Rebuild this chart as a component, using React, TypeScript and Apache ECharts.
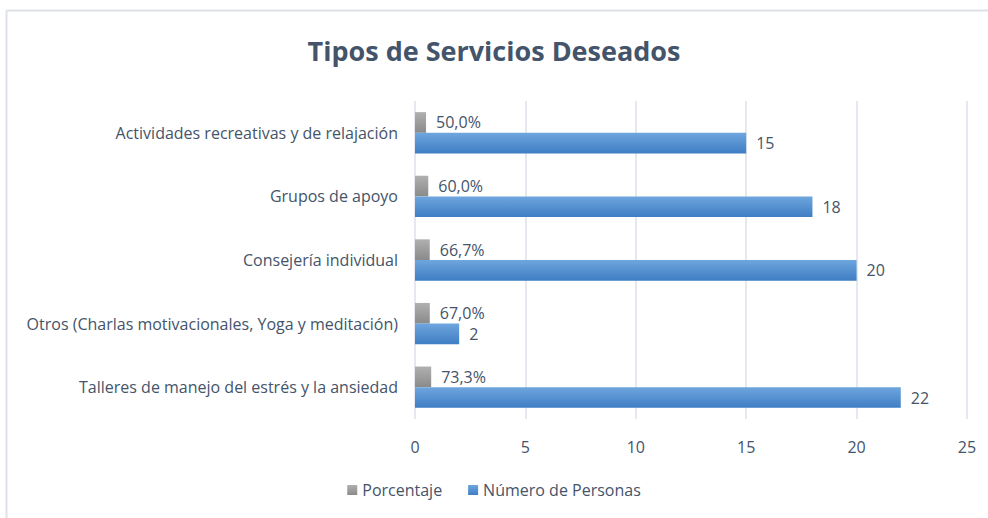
import React, { useEffect, useRef } from "react";
import * as echarts from "echarts";

const categories = [
  "Talleres de manejo del estrés y la ansiedad",
  "Otros (Charlas motivacionales, Yoga y meditación)",
  "Consejería individual",
  "Grupos de apoyo",
  "Actividades recreativas y de relajación",
];
const porcentaje = [0.733, 0.67, 0.667, 0.6, 0.5];
const personas = [22, 2, 20, 18, 15];
const xTicks = { min: 0, max: 25, interval: 5 };

const FONT = "Open Sans";

export default function App() {
  const ref = useRef<HTMLDivElement>(null);
  useEffect(() => {
    if (!ref.current) return;
    const chart = echarts.init(ref.current, undefined, { renderer: "svg" });
    chart.setOption({
      animation: false,
      backgroundColor: "#ffffff",
      textStyle: { fontFamily: FONT },
      title: {
        text: "Tipos de Servicios Deseados",
        left: "center",
        top: 32,
        textStyle: { fontFamily: FONT, fontSize: 27, fontWeight: "bold", color: "#44546a" },
      },
      graphic: [
        { type: "line", shape: { x1: 6.5, y1: 10.5, x2: 988, y2: 10.5 }, style: { stroke: "#dde2ea", lineWidth: 2 } },
        { type: "line", shape: { x1: 6.5, y1: 10.5, x2: 6.5, y2: 518 }, style: { stroke: "#dde2ea", lineWidth: 2 } },
      ],
      legend: {
        bottom: 15,
        left: "center",
        itemWidth: 10,
        itemHeight: 10,
        itemGap: 26,
        icon: "rect",
        textStyle: { fontFamily: FONT, fontSize: 16, color: "#44546a" },
        data: ["Porcentaje", "Número de Personas"],
      },
      grid: { left: 415, right: 21, top: 101, bottom: 99, containLabel: false },
      xAxis: {
        type: "value",
        min: xTicks.min,
        max: xTicks.max,
        interval: xTicks.interval,
        axisLine: { show: false },
        axisTick: { show: false },
        axisLabel: { fontFamily: FONT, fontSize: 16, color: "#44546a", margin: 20 },
        splitLine: { show: true, lineStyle: { color: "#dde2ea", width: 1.5 } },
      },
      yAxis: {
        type: "category",
        data: categories,
        axisLine: { show: false },
        axisTick: { show: false },
        axisLabel: { fontFamily: FONT, fontSize: 16, color: "#44546a", margin: 17 },
      },
      series: [
        {
          name: "Porcentaje",
          type: "bar",
          data: porcentaje,
          barGap: "0%",
          barCategoryGap: "35%",
          itemStyle: {
            color: new echarts.graphic.LinearGradient(0, 0, 0, 1, [
              { offset: 0, color: "#b0b0b0" },
              { offset: 1, color: "#8a8a8a" },
            ]),
          },
          label: {
            show: true,
            position: "right",
            distance: 10,
            fontFamily: FONT,
            fontSize: 16,
            color: "#44546a",
            formatter: (p: any) => (p.value * 100).toFixed(1).replace(".", ",") + "%",
          },
        },
        {
          name: "Número de Personas",
          type: "bar",
          data: personas,
          barGap: "0%",
          barCategoryGap: "35%",
          itemStyle: {
            color: new echarts.graphic.LinearGradient(0, 0, 0, 1, [
              { offset: 0, color: "#6ea6de" },
              { offset: 1, color: "#3f7dc3" },
            ]),
          },
          label: {
            show: true,
            position: "right",
            distance: 10,
            fontFamily: FONT,
            fontSize: 16,
            color: "#44546a",
          },
        },
      ],
    });
    return () => chart.dispose();
  }, []);
  return (
    <div
      ref={ref}
      style={{ position: "fixed", left: 0, top: 0, width: 988, height: 518 }}
    />
  );
}
